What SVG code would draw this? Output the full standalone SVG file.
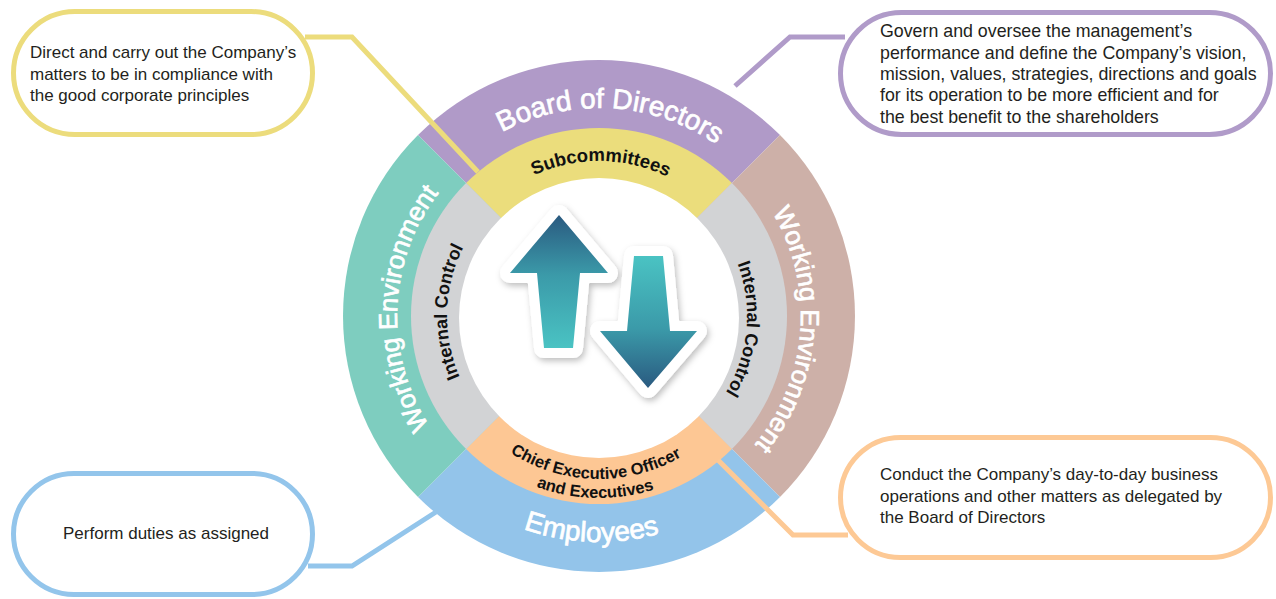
<svg xmlns="http://www.w3.org/2000/svg" width="1276" height="599" viewBox="0 0 1276 599">
<style>
.pill{fill:#fff;stroke-width:5}
.desc{font-family:"Liberation Sans",Arial,sans-serif;font-size:17px;fill:#231f20}
.desc-lg{font-family:"Liberation Sans",Arial,sans-serif;font-size:17.8px;fill:#231f20}
.conn{fill:none;stroke-width:5;stroke-linejoin:miter}
.rw{font-family:"Liberation Sans",Arial,sans-serif;fill:#fff;stroke:#fff;stroke-width:0.7}
.rb{font-family:"Liberation Sans",Arial,sans-serif;fill:#111;font-weight:bold}
.arrowbg{fill:#fff;stroke:#fff;stroke-width:20;stroke-linejoin:round}
</style>
<defs>
<linearGradient id="gUp" x1="0" y1="0" x2="0" y2="1">
<stop offset="0" stop-color="#2a5a80"/><stop offset="0.45" stop-color="#3b9aa9"/><stop offset="1" stop-color="#4ac3c3"/>
</linearGradient>
<linearGradient id="gDown" x1="0" y1="0" x2="0" y2="1">
<stop offset="0" stop-color="#4ac3c3"/><stop offset="0.55" stop-color="#3b9aa9"/><stop offset="1" stop-color="#2a5a80"/>
</linearGradient>
<filter id="shadow" x="-30%" y="-30%" width="160%" height="160%">
<feDropShadow dx="2" dy="3" stdDeviation="3" flood-color="#000" flood-opacity="0.25"/>
</filter>
<path id="pBoard" d="M391,316 A208,208 0 0 1 807,316"/>
<path id="pSub" d="M444,316 A155,155 0 0 1 754,316"/>
<path id="pWEL" d="M599,518 A202,202 0 0 1 599,114"/>
<path id="pWER" d="M599,114 A202,202 0 0 1 599,518"/>
<path id="pICL" d="M599,468 A152,152 0 0 1 599,164"/>
<path id="pICR" d="M599,168 A148,148 0 0 1 599,464"/>
<path id="pEmp" d="M373,316 A226,226 0 0 0 825,316"/>
<path id="pCEO1" d="M436,316 A163,163 0 0 0 762,316"/>
<path id="pCEO2" d="M417,316 A182,182 0 0 0 781,316"/>
</defs>

<g id="ring">
<path d="M599,316 L418,135 A256,256 0 0 1 780,135 Z" fill="#b09ac8"/>
<path d="M599,316 L780,135 A256,256 0 0 1 780,497 Z" fill="#cdb0a8"/>
<path d="M599,316 L780,497 A256,256 0 0 1 418,497 Z" fill="#93c4ea"/>
<path d="M599,316 L418,497 A256,256 0 0 1 418,135 Z" fill="#7ecdbf"/>
<path d="M599,316 L466.06,183.06 A188,188 0 0 1 731.94,183.06 Z" fill="#ebdd7c"/>
<path d="M599,316 L731.94,183.06 A188,188 0 0 1 731.94,448.94 Z" fill="#d2d3d5"/>
<path d="M599,316 L731.94,448.94 A188,188 0 0 1 466.06,448.94 Z" fill="#fdc794"/>
<path d="M599,316 L466.06,448.94 A188,188 0 0 1 466.06,183.06 Z" fill="#d2d3d5"/>
<circle cx="599" cy="318" r="140" fill="#fff"/>
</g>

<g id="connectors">
<polyline class="conn" stroke="#ecdc7c" points="305,37 352,37 478,172"/>
<polyline class="conn" stroke="#b09bc9" points="845,37 790,37 735,86"/>
<polyline class="conn" stroke="#93c5eb" points="308,566 352,566 436,512"/>
<polyline class="conn" stroke="#fdc995" points="718,460 793,535 848,535"/>
</g>

<g id="board-of-directors">
<text class="rw" font-size="28"><textPath href="#pBoard" startOffset="51.8%" text-anchor="middle">Board of Directors</textPath></text>
</g>
<g id="subcommittees">
<text class="rb" font-size="18.5"><textPath href="#pSub" startOffset="50.4%" text-anchor="middle">Subcommittees</textPath></text>
</g>
<g id="working-environment-left">
<text class="rw" font-size="26"><textPath href="#pWEL" startOffset="51.3%" text-anchor="middle">Working Environment</textPath></text>
</g>
<g id="working-environment-right">
<text class="rw" font-size="26"><textPath href="#pWER" startOffset="52.4%" text-anchor="middle">Working Environment</textPath></text>
</g>
<g id="internal-control-left">
<text class="rb" font-size="18"><textPath href="#pICL" startOffset="50.9%" text-anchor="middle">Internal Control</textPath></text>
</g>
<g id="internal-control-right">
<text class="rb" font-size="18"><textPath href="#pICR" startOffset="52.9%" text-anchor="middle">Internal Control</textPath></text>
</g>
<g id="employees">
<text class="rw" font-size="28"><textPath href="#pEmp" startOffset="48.9%" text-anchor="middle">Employees</textPath></text>
</g>
<g id="ceo">
<text class="rb" font-size="16.5"><textPath href="#pCEO1" startOffset="49.3%" text-anchor="middle">Chief Executive Officer</textPath></text>
<text class="rb" font-size="16.5"><textPath href="#pCEO2" startOffset="49.3%" text-anchor="middle">and Executives</textPath></text>
</g>

<g id="arrows">
<g filter="url(#shadow)">
<polygon class="arrowbg" points="559,215 608,273 580,273 573,348 544,348 537,273 510,273"/>
<polygon class="arrowbg" points="634,256 663,256 670,331 697,331 648,388 600,331 627,331"/>
</g>
<polygon fill="url(#gUp)" points="559,215 608,273 580,273 573,348 544,348 537,273 510,273"/>
<polygon fill="url(#gDown)" points="634,256 663,256 670,331 697,331 648,388 600,331 627,331"/>
</g>

<g id="callout-subcommittees">
<rect class="pill" stroke="#ecdc7c" x="13.5" y="11.5" width="299" height="123" rx="61.5"/>
<text class="desc"><tspan x="30" y="58">Direct and carry out the Company’s</tspan><tspan x="30" y="80">matters to be in compliance with</tspan><tspan x="30" y="101">the good corporate principles</tspan></text>
</g>
<g id="callout-board">
<rect class="pill" stroke="#b09bc9" x="840.5" y="12.5" width="430" height="122" rx="61"/>
<text class="desc-lg"><tspan x="880" y="37">Govern and oversee the management’s</tspan><tspan x="880" y="59">performance and define the Company’s vision,</tspan><tspan x="880" y="80">mission, values, strategies, directions and goals</tspan><tspan x="880" y="101">for its operation to be more efficient and for</tspan><tspan x="880" y="123">the best benefit to the shareholders</tspan></text>
</g>
<g id="callout-employees">
<rect class="pill" stroke="#93c5eb" x="13.5" y="473.5" width="299" height="121" rx="60.5"/>
<text class="desc" x="63" y="539">Perform duties as assigned</text>
</g>
<g id="callout-ceo">
<rect class="pill" stroke="#fdc995" x="840.5" y="437.5" width="430" height="120" rx="60"/>
<text class="desc"><tspan x="880" y="480">Conduct the Company’s day-to-day business</tspan><tspan x="880" y="502">operations and other matters as delegated by</tspan><tspan x="880" y="523">the Board of Directors</tspan></text>
</g>
</svg>
